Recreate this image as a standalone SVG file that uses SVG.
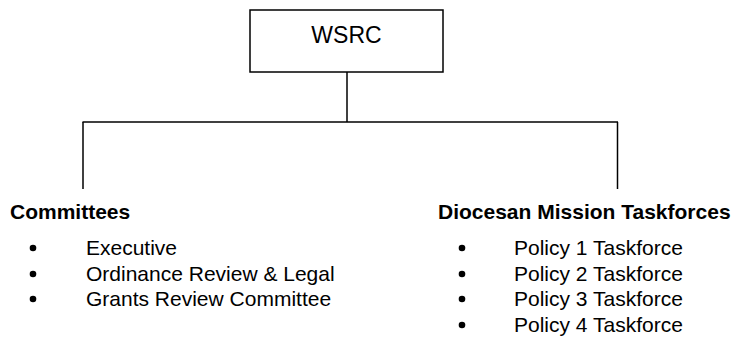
<svg xmlns="http://www.w3.org/2000/svg" width="739" height="338" viewBox="0 0 739 338">
<style>
  .ln { stroke: #000; stroke-width: 1.5; fill: none; }
  .box { fill: #fff; stroke: #000; stroke-width: 1.5; }
  .t { font-family: "Liberation Sans", Arial, sans-serif; font-size: 21px; fill: #000; }
  .h { font-weight: bold; }
  .bul { fill: #000; }
</style>
<rect width="739" height="338" fill="#fff"/>
<g id="connectors">
  <line class="ln" x1="347" y1="72" x2="347" y2="122"/>
  <line class="ln" x1="82.5" y1="122" x2="618" y2="122"/>
  <line class="ln" x1="83" y1="122" x2="83" y2="189"/>
  <line class="ln" x1="617.5" y1="122" x2="617.5" y2="189"/>
</g>
<g id="wsrc">
  <rect class="box" x="250" y="10" width="193" height="62"/>
  <text class="t" x="346.5" y="43" text-anchor="middle" style="font-size:23px">WSRC</text>
</g>
<g id="committees">
  <text class="t h" x="10" y="219">Committees</text>
  <circle class="bul" cx="33" cy="248" r="3.3"/><text class="t" x="86" y="255">Executive</text>
  <circle class="bul" cx="33" cy="274" r="3.3"/><text class="t" x="86" y="281">Ordinance Review &amp; Legal</text>
  <circle class="bul" cx="33" cy="299" r="3.3"/><text class="t" x="86" y="306">Grants Review Committee</text>
</g>
<g id="taskforces">
  <text class="t h" x="438" y="219">Diocesan Mission Taskforces</text>
  <circle class="bul" cx="462" cy="248" r="3.3"/><text class="t" x="514" y="255">Policy 1 Taskforce</text>
  <circle class="bul" cx="462" cy="274" r="3.3"/><text class="t" x="514" y="281">Policy 2 Taskforce</text>
  <circle class="bul" cx="462" cy="299" r="3.3"/><text class="t" x="514" y="306">Policy 3 Taskforce</text>
  <circle class="bul" cx="462" cy="325" r="3.3"/><text class="t" x="514" y="332">Policy 4 Taskforce</text>
</g>
</svg>
